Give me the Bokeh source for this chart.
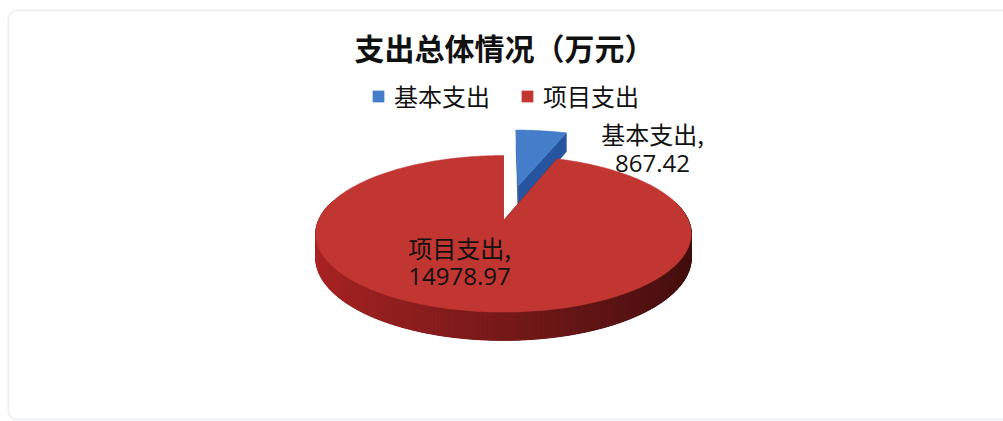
import numpy as np
from bokeh.plotting import figure
from bokeh.models import Range1d, BoxAnnotation, Legend, LegendItem
from bokeh.core.properties import value
from bokeh.embed import file_html
from bokeh.resources import INLINE

# ---------------- data ----------------
title_text = "支出总体情况（万元）"
categories = ["基本支出", "项目支出"]
amounts = [867.42, 14978.97]
explode = [0.5, 0.0]

# ---------------- styles ----------------
top_colors = [(68, 125, 202), (194, 54, 50)]
face_colors = [(38, 84, 158), (120, 26, 26)]
side_light = [(60, 110, 185), (172, 36, 36)]
side_dark = [(30, 60, 120), (64, 14, 14)]

W, H = 1003, 421
p = figure(width=W, height=H, x_range=Range1d(0, W), y_range=Range1d(H, 0),
           output_backend="svg", toolbar_location=None, min_border=0,
           x_axis_location=None, y_axis_location=None,
           outline_line_color=None, background_fill_color="white",
           border_fill_color="white")
p.grid.visible = False

# chart area border
p.add_layout(BoxAnnotation(left=8, right=1012, top=10, bottom=419,
                           fill_alpha=0, line_color="#c9cdd7", line_width=2,
                           border_radius=8))

# 3D pie projection (screen layout)
CX, CY = 503, 220
A, B, K, D = 185, 76, 0.17, 23.5


def proj(u, v, h=0.0):
    s = 1 + K * v
    return CX + A * u / s, CY - B * v / s + D * h / s


def hexc(c):
    return "#%02x%02x%02x" % tuple(int(round(x)) for x in c)


total = float(sum(amounts))
fr = np.array(amounts) / total
t_end = np.cumsum(fr) * 2 * np.pi
t_start = np.concatenate([[0.0], t_end[:-1]])

top_renderers = []
for i in range(len(amounts)):
    t0, t1 = t_start[i], t_end[i]
    tm = 0.5 * (t0 + t1)
    ou, ov = explode[i] * np.sin(tm), explode[i] * np.cos(tm)
    n = max(8, int((t1 - t0) / (2 * np.pi) * 360))
    ts = np.linspace(t0, t1, n)

    # outer curved side: a base band, then shaded segments on top
    vis = ts[np.cos(ts) < 0.3]
    if len(vis) > 1:
        bx_top, by_top = proj(np.sin(vis) + ou, np.cos(vis) + ov)
        bx_bot, by_bot = proj(np.sin(vis) + ou, np.cos(vis) + ov, 1)
        mid = tuple(0.5 * (side_dark[i][k] + side_light[i][k]) for k in range(3))
        p.patch(list(bx_top) + list(bx_bot[::-1]), list(by_top) + list(by_bot[::-1]),
                fill_color=hexc(mid), line_color=None)
    sx, sy, sc = [], [], []
    for j in range(n - 1):
        ta, tb = ts[j], ts[j + 1]
        tmid = 0.5 * (ta + tb)
        if np.cos(tmid) > 0.25:
            continue
        ax, ay = proj(np.sin(ta) + ou, np.cos(ta) + ov)
        bx, by = proj(np.sin(tb) + ou, np.cos(tb) + ov)
        cx2, cy2 = proj(np.sin(tb) + ou, np.cos(tb) + ov, 1)
        dx, dy = proj(np.sin(ta) + ou, np.cos(ta) + ov, 1)
        br = 0.5 + 0.5 * np.cos(tmid - 1.5 * np.pi)
        col = tuple(side_dark[i][k] + (side_light[i][k] - side_dark[i][k]) * br for k in range(3))
        sx.append([ax, bx, cx2, dx])
        sy.append([ay, by, cy2, dy])
        sc.append(hexc(col))
    if sx:
        p.patches(sx, sy, fill_color=sc, line_color=sc, line_width=1.0)

    # radial cut faces
    fx, fy = [], []
    for t in (t0, t1):
        vx0, vy0 = proj(ou, ov)
        vx1, vy1 = proj(ou, ov, 1)
        ex0, ey0 = proj(np.sin(t) + ou, np.cos(t) + ov)
        ex1, ey1 = proj(np.sin(t) + ou, np.cos(t) + ov, 1)
        fx.append([vx0, ex0, ex1, vx1])
        fy.append([vy0, ey0, ey1, vy1])
    p.patches(fx, fy, fill_color=hexc(face_colors[i]), line_color=hexc(face_colors[i]), line_width=0.5)

    # top face
    vx, vy = proj(ou, ov)
    xs, ys = proj(np.sin(ts) + ou, np.cos(ts) + ov)
    tx = [vx] + list(xs)
    ty = [vy] + list(ys)
    r = p.patch(tx, ty, fill_color=hexc(top_colors[i]), line_color=hexc(top_colors[i]), line_width=0.5)
    top_renderers.append(r)

# legend
leg_items = [LegendItem(label=cat, renderers=[top_renderers[i]]) for i, cat in enumerate(categories)]
legend = Legend(items=leg_items, orientation="horizontal", location=(371, 308),
                label_text_font="Noto Sans CJK SC", label_text_font_size="24px",
                label_text_color="#111111", glyph_width=14, glyph_height=14,
                label_standoff=9, spacing=30, padding=0, margin=0,
                border_line_color=None, background_fill_alpha=0)
p.add_layout(legend)

# title
p.text(x=[504], y=[46], text=[title_text], text_font=value("Noto Sans CJK SC"),
       text_font_style="bold", text_font_size="30px", text_align="center",
       text_baseline="middle", text_color="#111111")

# data labels
label_pos = [(652, 133, 163), (459, 247, 276)]
for i, cat in enumerate(categories):
    lx, ly1, ly2 = label_pos[i]
    p.text(x=[lx], y=[ly1], text=[cat + ","], text_font=value("Noto Sans CJK SC"),
           text_font_size="24px", text_align="center", text_baseline="middle",
           text_color="#111111")
    p.text(x=[lx], y=[ly2], text=["%.2f" % amounts[i]], text_font=value("Open Sans"),
           text_font_size="24px", text_align="center", text_baseline="middle",
           text_color="#111111")

open("out.html", "w").write(file_html(p, INLINE))
